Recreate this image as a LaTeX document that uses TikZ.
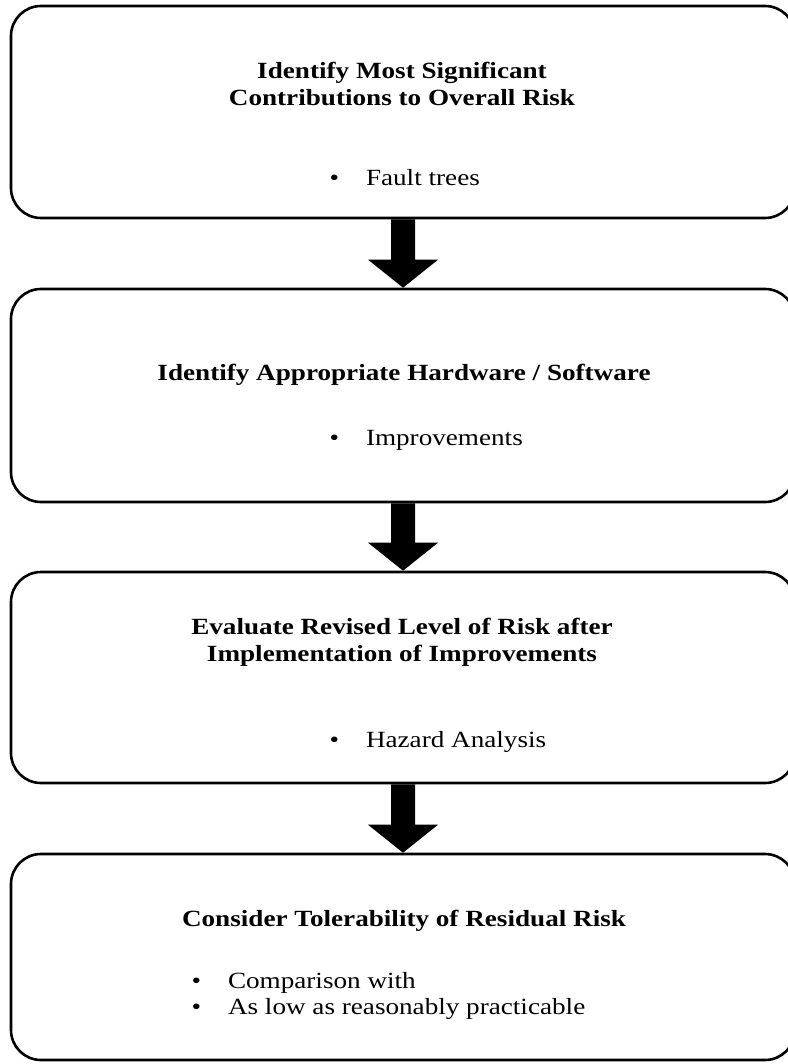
\documentclass[tikz,border=0pt]{standalone}
\usepackage{fontspec}
\setmainfont{Liberation Serif}[FakeStretch=1.17]
\usepackage{tikz}
\usetikzlibrary{positioning,calc}

% block arrow between two stacked boxes
\newcommand{\stepdown}[2]{%
  \fill ($(#1.south)+(-12,0)$) -- ($(#1.south)+(12,0)$)
        -- ($(#2.north)+(12,-28)$) -- ($(#2.north)+(35,-28)$)
        -- (#2.north) -- ($(#2.north)+(-35,-28)$)
        -- ($(#2.north)+(-12,-28)$) -- cycle;}

\begin{document}
\begin{tikzpicture}[x=1pt, y=-1pt,
                    every node/.style={font=\fontsize{23.2}{27}\selectfont},
                    stage/.style={draw, line width=2.6pt, rounded corners=30pt,
                                  minimum width=784pt, inner sep=0pt},
                    head/.style={font=\fontsize{23.2}{27}\selectfont\bfseries, align=center},
                    items/.style={anchor=west, align=left}]
  \useasboundingbox (0,0) rectangle (787,1064);

  % the four stages
  \node[stage, minimum height=212pt] (s1) at (403,112) {};
  \node[stage, minimum height=213pt] (s2) at (403,395.5) {};
  \node[stage, minimum height=211pt] (s3) at (403,677.5) {};
  \node[stage, minimum height=206pt] (s4) at (403,957) {};

  % headings
  \node[head] (h1) at (402,83.5) {Identify Most Significant\\Contributions to Overall Risk};
  \node[head] (h2) at (404,375) {Identify Appropriate Hardware / Software};
  \node[head] (h3) at (402,642.5) {Evaluate Revised Level of Risk after\\Implementation of Improvements};
  \node[head] (h4) at (404,921) {Consider Tolerability of Residual Risk};

  % bullet points
  \node[items] (l1) at (326,178) {\textbullet\hspace{27pt}Fault trees};
  \node[items] (l2) at (326,440) {\textbullet\hspace{27pt}Improvements};
  \node[items] (l3) at (326,742) {\textbullet\hspace{27pt}Hazard Analysis};
  \node[items, font=\fontsize{23.2}{25.5}\selectfont] (l4) at (188,996)
       {\textbullet\hspace{27pt}Comparison with\\
        \textbullet\hspace{27pt}As low as reasonably practicable};

  % arrows between stages
  \stepdown{s1}{s2}
  \stepdown{s2}{s3}
  \stepdown{s3}{s4}
\end{tikzpicture}
\end{document}
